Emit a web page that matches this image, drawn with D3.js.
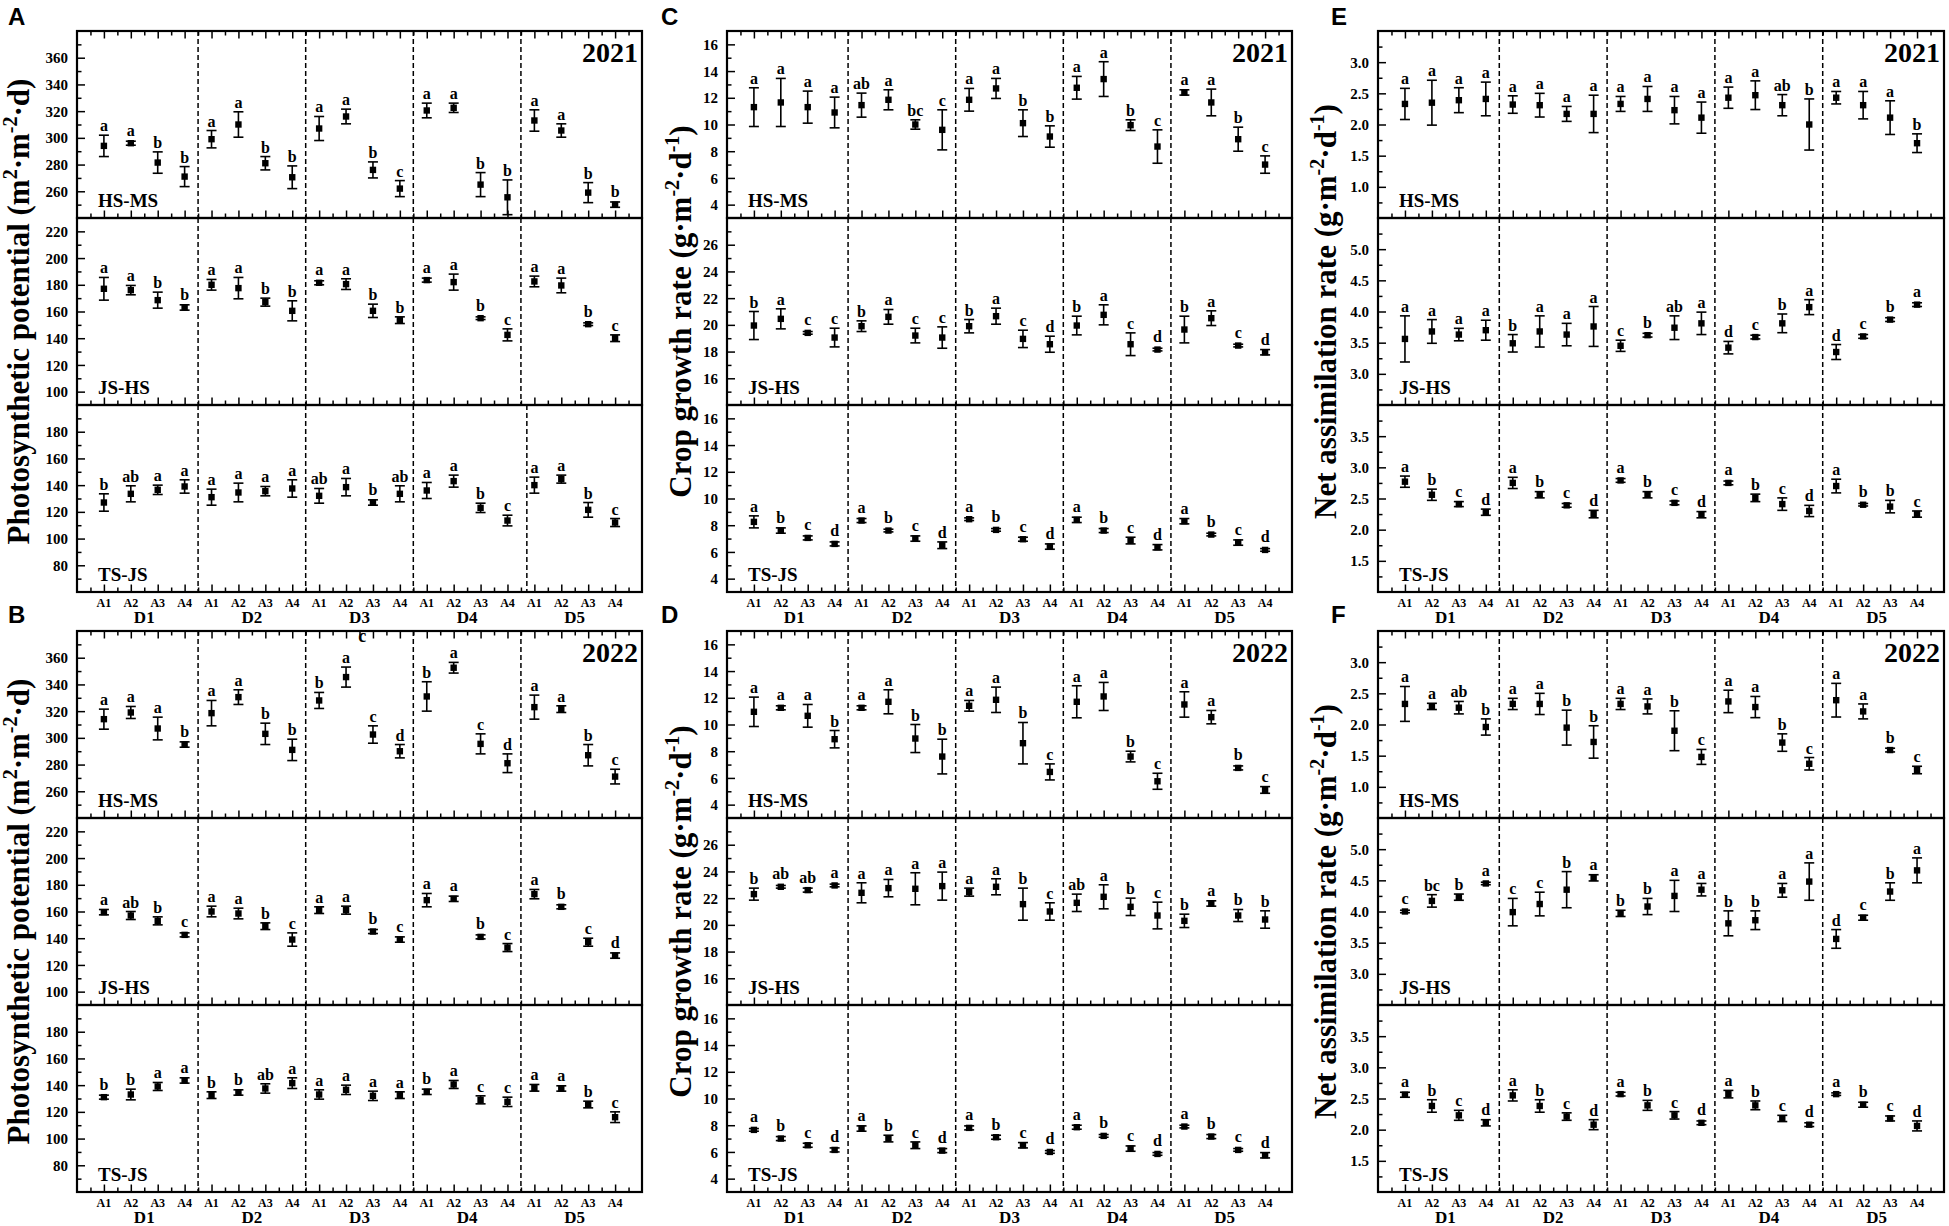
<!DOCTYPE html>
<html>
<head>
<meta charset="utf-8">
<script src="https://cdn.jsdelivr.net/npm/d3@7"></script>
<style>
  body { margin: 0; background: #fff; }
  svg text { font-family: "Liberation Serif", "Times New Roman", serif; font-weight: bold; fill: #000; }
</style>
</head>
<body>
<svg id="chart" width="1949" height="1226"></svg>
<script>
// categories
const groups = ["D1", "D2", "D3", "D4", "D5"];
const treatments = ["A1", "A2", "A3", "A4"];
const stages = ["HS-MS", "JS-HS", "TS-JS"];

// axis ticks / ranges for the three variables (top, middle, bottom sub panel)
const ppTicks = [[260, 280, 300, 320, 340, 360], [100, 120, 140, 160, 180, 200, 220], [80, 100, 120, 140, 160, 180]];
const ppDomains = [[240, 380], [90, 230], [60, 200]];
const cgrTicks = [[4, 6, 8, 10, 12, 14, 16], [16, 18, 20, 22, 24, 26], [4, 6, 8, 10, 12, 14, 16]];
const cgrDomains = [[3, 17], [14, 28], [3, 17]];
const narTicks = [[1.0, 1.5, 2.0, 2.5, 3.0], [3.0, 3.5, 4.0, 4.5, 5.0], [1.5, 2.0, 2.5, 3.0, 3.5]];
const narDomains = [[0.5, 3.5], [2.5, 5.5], [1.0, 4.0]];

// A - photosynthetic potential 2021
const ppHsMs21 = [294, 296, 281.5, 271, 299, 310, 281, 270.5, 307, 316, 276, 262, 320.5, 322.5, 265, 255.5, 313, 305.5, 259, 250];
const ppHsMs21Err = [8, 1.5, 8, 7.5, 6.5, 9.5, 5, 8.5, 9, 5.5, 6, 6, 5.5, 3.5, 9, 13, 8, 5, 7.5, 2];
const ppHsMs21Sig = "a a b b a a b b a a b c a a b b a a b b".split(" ");
const ppJsHs21 = [177, 176, 168.5, 163, 180, 177.5, 167, 160.5, 181.5, 180.5, 160.5, 153.5, 183.5, 182, 155, 142.5, 182.5, 179.5, 150.5, 140];
const ppJsHs21Err = [8.5, 3.5, 6, 2, 4, 8, 3, 7.5, 1.5, 4, 5, 2.5, 1.5, 6, 1, 4.5, 4, 5.5, 1, 2.5];
const ppJsHs21Sig = "a a b b a a b b a a b b a a b c a a b c".split(" ");
const ppTsJs21 = [127, 133.5, 136.5, 139, 131, 134.5, 135.5, 137.5, 132, 138.5, 127, 133.5, 136, 143, 123, 113.5, 140, 144.5, 121.5, 112];
const ppTsJs21Err = [6.5, 6, 3.5, 5, 6, 7, 3.5, 6.5, 5.5, 6.5, 2, 6, 6, 4.5, 3.5, 4, 6, 3, 5.5, 3];
const ppTsJs21Sig = "b ab a a a a a a ab a b ab a a b c a a b c".split(" ");

// B - photosynthetic potential 2022
const ppHsMs22 = [314, 319, 307, 295, 318.5, 330.5, 303, 291, 328, 345.5, 302.5, 290, 331, 352.5, 295.5, 281, 323, 321.5, 287, 271];
const ppHsMs22Err = [7.5, 4.5, 8.5, 2, 9.5, 5.5, 8, 8, 6, 7.5, 6.5, 5, 11, 4, 7.5, 7, 9, 2.5, 8, 5.5];
const ppHsMs22Sig = "a a a b a a b b b a c d b a c d a a b c".split(" ");
const ppJsHs22 = [159.5, 157, 153, 142.5, 160, 158.5, 149, 139, 161, 161, 145, 139, 168.5, 169.5, 141, 133, 173, 163.5, 137, 127];
const ppJsHs22Err = [2, 3, 3, 1.5, 4, 4, 2.5, 5, 2.5, 3, 1.5, 2, 5, 2, 1.5, 3, 3.5, 1.5, 3, 2];
const ppJsHs22Sig = "a ab b c a a b c a a b c a a b c a b c d".split(" ");
const ppTsJs22 = [131, 133, 139, 143.5, 132.5, 134.5, 137.5, 141.5, 133, 136.5, 132, 132.5, 135, 140.5, 129, 127.5, 138, 137.5, 125.5, 116];
const ppTsJs22Err = [1.5, 4, 3, 2, 2.5, 2, 3.5, 4, 3.5, 3.5, 3.5, 2.5, 2, 3, 3, 3.5, 2.5, 2, 2.5, 4];
const ppTsJs22Sig = "b b a a b b ab a a a a a b a c c a a b c".split(" ");

// C - crop growth rate 2021
const cgrHsMs21 = [11.3, 11.65, 11.3, 10.9, 11.45, 11.85, 10, 9.6, 11.85, 12.7, 10.1, 9.1, 12.75, 13.4, 9.95, 8.35, 12.4, 11.65, 8.9, 7.0];
const cgrHsMs21Err = [1.45, 1.8, 1.2, 1.15, 0.9, 0.75, 0.35, 1.5, 0.85, 0.75, 1.0, 0.8, 0.85, 1.3, 0.4, 1.25, 0.2, 1.0, 0.9, 0.65];
const cgrHsMs21Sig = "a a a a ab a bc c a a b b a a b c a a b c".split(" ");
const cgrJsHs21 = [19.95, 20.45, 19.4, 19.05, 19.9, 20.6, 19.2, 19.05, 19.9, 20.65, 18.95, 18.55, 19.95, 20.75, 18.55, 18.15, 19.65, 20.5, 18.45, 17.95];
const cgrJsHs21Err = [1.05, 0.75, 0.1, 0.7, 0.4, 0.55, 0.55, 0.8, 0.5, 0.6, 0.65, 0.6, 0.7, 0.75, 0.85, 0.1, 1.0, 0.55, 0.1, 0.2];
const cgrJsHs21Sig = "b a c c b a c c b a c d b a c d b a c d".split(" ");
const cgrTsJs21 = [8.25, 7.6, 7.05, 6.6, 8.35, 7.6, 7.0, 6.5, 8.45, 7.65, 6.95, 6.4, 8.4, 7.6, 6.85, 6.35, 8.3, 7.3, 6.7, 6.15];
const cgrTsJs21Err = [0.45, 0.2, 0.15, 0.15, 0.15, 0.1, 0.2, 0.25, 0.1, 0.1, 0.15, 0.2, 0.2, 0.15, 0.25, 0.2, 0.2, 0.1, 0.2, 0.1];
const cgrTsJs21Sig = "a b c d a b c d a b c d a b c d a b c d".split(" ");

// D - crop growth rate 2022
const cgrHsMs22 = [10.95, 11.25, 10.65, 8.9, 11.25, 11.7, 8.95, 7.6, 11.4, 11.85, 8.6, 6.45, 11.7, 12.1, 7.6, 5.75, 11.5, 10.55, 6.75, 5.1];
const cgrHsMs22Err = [1.1, 0.15, 0.85, 0.65, 0.15, 0.9, 1.05, 1.3, 0.4, 0.95, 1.55, 0.6, 1.2, 1.05, 0.4, 0.6, 0.95, 0.5, 0.15, 0.25];
const cgrHsMs22Sig = "a a a b a a b b a a b c a a b c a a b c".split(" ");
const cgrJsHs22 = [22.3, 22.85, 22.6, 22.95, 22.4, 22.75, 22.7, 22.9, 22.45, 22.85, 21.55, 21.0, 21.65, 22.1, 21.35, 20.7, 20.3, 21.6, 20.7, 20.4];
const cgrJsHs22Err = [0.45, 0.1, 0.15, 0.1, 0.75, 0.65, 1.2, 1.05, 0.3, 0.6, 1.2, 0.65, 0.65, 0.9, 0.65, 1.0, 0.5, 0.2, 0.45, 0.65];
const cgrJsHs22Sig = "b ab ab a a a a a a a b c ab a b c b a b b".split(" ");
const cgrTsJs22 = [7.65, 7.0, 6.5, 6.15, 7.75, 7.0, 6.5, 6.1, 7.8, 7.1, 6.5, 6.0, 7.85, 7.2, 6.25, 5.85, 7.9, 7.15, 6.15, 5.75];
const cgrTsJs22Err = [0.1, 0.15, 0.15, 0.15, 0.2, 0.25, 0.25, 0.15, 0.15, 0.15, 0.2, 0.1, 0.15, 0.1, 0.2, 0.1, 0.1, 0.15, 0.1, 0.2];
const cgrTsJs22Sig = "a b c d a b c d a b c d a b c d a b c d".split(" ");

// E - net assimilation rate 2021
const narHsMs21 = [2.33, 2.35, 2.39, 2.41, 2.32, 2.31, 2.17, 2.17, 2.33, 2.41, 2.23, 2.11, 2.43, 2.47, 2.31, 2.0, 2.43, 2.31, 2.11, 1.7];
const narHsMs21Err = [0.25, 0.36, 0.2, 0.27, 0.14, 0.19, 0.12, 0.3, 0.12, 0.2, 0.22, 0.25, 0.17, 0.23, 0.17, 0.41, 0.1, 0.22, 0.27, 0.15];
const narHsMs21Sig = "a a a a a a a a a a a a a a ab b a a a b".split(" ");
const narJsHs21 = [3.56, 3.68, 3.63, 3.7, 3.49, 3.68, 3.63, 3.76, 3.45, 3.62, 3.74, 3.81, 3.42, 3.59, 3.81, 4.07, 3.35, 3.6, 3.87, 4.11];
const narJsHs21Err = [0.37, 0.19, 0.1, 0.16, 0.14, 0.25, 0.18, 0.32, 0.09, 0.03, 0.19, 0.18, 0.1, 0.03, 0.15, 0.12, 0.12, 0.03, 0.03, 0.03];
const narJsHs21Sig = "a a a a b a a a c b ab a d c b a d c b a".split(" ");
const narTsJs21 = [2.77, 2.56, 2.41, 2.28, 2.75, 2.56, 2.39, 2.25, 2.79, 2.56, 2.43, 2.24, 2.75, 2.51, 2.41, 2.3, 2.7, 2.4, 2.37, 2.25];
const narTsJs21Err = [0.09, 0.09, 0.04, 0.05, 0.09, 0.05, 0.03, 0.06, 0.03, 0.05, 0.03, 0.05, 0.03, 0.06, 0.1, 0.09, 0.11, 0.02, 0.1, 0.05];
const narTsJs21Sig = "a b c d a b c d a b c d a b c d a b b c".split(" ");

// F - net assimilation rate 2022
const narHsMs22 = [2.33, 2.29, 2.27, 1.96, 2.33, 2.33, 1.95, 1.72, 2.33, 2.29, 1.9, 1.48, 2.37, 2.28, 1.71, 1.37, 2.39, 2.21, 1.59, 1.27];
const narHsMs22Err = [0.28, 0.05, 0.1, 0.13, 0.09, 0.17, 0.28, 0.26, 0.09, 0.12, 0.32, 0.12, 0.18, 0.17, 0.14, 0.1, 0.27, 0.12, 0.03, 0.06];
const narHsMs22Sig = "a a ab b a a b b a a b c a a b c a a b c".split(" ");
const narJsHs22 = [4.0, 4.17, 4.23, 4.45, 3.99, 4.12, 4.35, 4.54, 3.97, 4.08, 4.25, 4.35, 3.81, 3.86, 4.34, 4.48, 3.56, 3.9, 4.32, 4.66];
const narJsHs22Err = [0.02, 0.1, 0.05, 0.02, 0.22, 0.19, 0.29, 0.05, 0.05, 0.13, 0.25, 0.1, 0.2, 0.15, 0.11, 0.3, 0.15, 0.04, 0.14, 0.2];
const narJsHs22Sig = "c bc b a c c b a b b a a b b a a d c b a".split(" ");
const narTsJs22 = [2.56, 2.38, 2.23, 2.11, 2.55, 2.38, 2.21, 2.08, 2.57, 2.39, 2.23, 2.11, 2.57, 2.39, 2.18, 2.08, 2.57, 2.4, 2.18, 2.06];
const narTsJs22Err = [0.04, 0.1, 0.08, 0.05, 0.09, 0.1, 0.06, 0.08, 0.03, 0.08, 0.06, 0.03, 0.06, 0.07, 0.05, 0.03, 0.02, 0.04, 0.04, 0.08];
const narTsJs22Sig = "a b c d a b c d a b c d a b c d a b c d".split(" ");

// y axis titles: [text, superscript?]
const ppTitle = [["Photosynthetic potential (m", 0], ["2", 1], ["·m", 0], ["-2", 1], ["·d)", 0]];
const cgrTitle = [["Crop growth rate (g·m", 0], ["-2", 1], ["·d", 0], ["-1", 1], [")", 0]];
const narTitle = [["Net assimilation rate (g·m", 0], ["-2", 1], ["·d", 0], ["-1", 1], [")", 0]];

// ---------------------------------------------------------------
const svg = d3.select("#chart");
svg.append("rect").attr("width", 1949).attr("height", 1226).attr("fill", "#fff");

const cols = [
  { left: 77, right: 642, tagX: 8, titleX: 29 },
  { left: 727, right: 1292, tagX: 661, titleX: 691 },
  { left: 1378, right: 1944, tagX: 1331, titleX: 1336 }
];
const rows = [{ top: 31, tagY: 25 }, { top: 631, tagY: 623 }];
const subH = 187;

const panels = [
  { tag: "A", col: 0, row: 0, year: "2021", title: ppTitle, ticks: ppTicks, domains: ppDomains, fmt: d3.format("d"),
    series: [[ppHsMs21, ppHsMs21Err, ppHsMs21Sig], [ppJsHs21, ppJsHs21Err, ppJsHs21Sig], [ppTsJs21, ppTsJs21Err, ppTsJs21Sig]],
    dividers: [[4.5, 8.5, 12.5, 16.5], [4.5, 8.5, 12.5, 16.5], [4.5, 8.5, 12.5, 16.72]] },
  { tag: "B", col: 0, row: 1, year: "2022", title: ppTitle, ticks: ppTicks, domains: ppDomains, fmt: d3.format("d"),
    series: [[ppHsMs22, ppHsMs22Err, ppHsMs22Sig], [ppJsHs22, ppJsHs22Err, ppJsHs22Sig], [ppTsJs22, ppTsJs22Err, ppTsJs22Sig]] },
  { tag: "C", col: 1, row: 0, year: "2021", title: cgrTitle, ticks: cgrTicks, domains: cgrDomains, fmt: d3.format("d"),
    series: [[cgrHsMs21, cgrHsMs21Err, cgrHsMs21Sig], [cgrJsHs21, cgrJsHs21Err, cgrJsHs21Sig], [cgrTsJs21, cgrTsJs21Err, cgrTsJs21Sig]] },
  { tag: "D", col: 1, row: 1, year: "2022", title: cgrTitle, ticks: cgrTicks, domains: cgrDomains, fmt: d3.format("d"),
    series: [[cgrHsMs22, cgrHsMs22Err, cgrHsMs22Sig], [cgrJsHs22, cgrJsHs22Err, cgrJsHs22Sig], [cgrTsJs22, cgrTsJs22Err, cgrTsJs22Sig]] },
  { tag: "E", col: 2, row: 0, year: "2021", title: narTitle, ticks: narTicks, domains: narDomains, fmt: d3.format(".1f"),
    series: [[narHsMs21, narHsMs21Err, narHsMs21Sig], [narJsHs21, narJsHs21Err, narJsHs21Sig], [narTsJs21, narTsJs21Err, narTsJs21Sig]] },
  { tag: "F", col: 2, row: 1, year: "2022", title: narTitle, ticks: narTicks, domains: narDomains, fmt: d3.format(".1f"),
    series: [[narHsMs22, narHsMs22Err, narHsMs22Sig], [narJsHs22, narJsHs22Err, narJsHs22Sig], [narTsJs22, narTsJs22Err, narTsJs22Sig]] }
];

function strip(g) {
  g.select(".domain").remove();
  g.selectAll(".tick line").attr("stroke", "#000").attr("stroke-width", 1.5);
}

panels.forEach(p => {
  const c = cols[p.col], r = rows[p.row];
  const g = svg.append("g");
  const x = d3.scaleLinear().domain([0, 21]).range([c.left, c.right]);
  const pos = d3.range(1, 21);
  const bottomAll = r.top + 3 * subH;

  // panel tag
  g.append("text").attr("x", c.tagX).attr("y", r.tagY)
    .style("font-family", "'Liberation Sans', Arial, sans-serif")
    .attr("font-size", 24).text(p.tag);

  // y title
  const t = g.append("text")
    .attr("transform", `translate(${c.titleX},${(r.top + bottomAll) / 2}) rotate(-90)`)
    .attr("text-anchor", "middle").attr("font-size", 31);
  let up = false;
  p.title.forEach(([s, sup]) => {
    const ts = t.append("tspan").text(s);
    if (sup) { ts.attr("font-size", 20).attr("dy", up ? 0 : -12); up = true; }
    else { ts.attr("dy", up ? 12 : 0); up = false; }
  });

  // top ticks of the whole panel
  g.append("g").attr("transform", `translate(0,${r.top})`)
    .call(d3.axisTop(x).tickValues(pos).tickSize(-7.5).tickSizeOuter(0).tickFormat(""))
    .call(strip);
  g.append("g").attr("transform", `translate(0,${r.top})`)
    .call(d3.axisTop(x).tickValues(d3.range(0.5, 21, 1)).tickSize(-4.5).tickSizeOuter(0).tickFormat(""))
    .call(strip);

  p.series.forEach(([mean, err, sig], k) => {
    const top = r.top + k * subH, bottom = top + subH;
    const y = d3.scaleLinear().domain(p.domains[k]).range([bottom, top]);
    const ticks = p.ticks[k];
    const step = ticks[1] - ticks[0];
    const minor = d3.range(p.domains[k][0] + step / 2, p.domains[k][1] - 1e-9, step / 2)
      .filter(v => ticks.every(m => Math.abs(m - v) > step / 10));

    // dividers
    const divs = p.dividers ? p.dividers[k] : [4.5, 8.5, 12.5, 16.5];
    g.selectAll(null).data(divs).join("line")
      .attr("x1", d => x(d)).attr("x2", d => x(d))
      .attr("y1", top).attr("y2", bottom)
      .attr("stroke", "#000").attr("stroke-width", 1.5).attr("stroke-dasharray", "5,3");

    // y axis
    g.append("g").attr("transform", `translate(${c.left},0)`)
      .call(d3.axisLeft(y).tickValues(ticks).tickSize(-8).tickSizeOuter(0).tickPadding(9).tickFormat(p.fmt))
      .call(strip)
      .call(a => a.selectAll("text").attr("font-size", 15).attr("dy", "0.34em"));
    g.append("g").attr("transform", `translate(${c.left},0)`)
      .call(d3.axisLeft(y).tickValues(minor).tickSize(-4.5).tickSizeOuter(0).tickFormat(""))
      .call(strip);

    // x ticks on the bottom edge of this sub panel
    g.append("g").attr("transform", `translate(0,${bottom})`)
      .call(d3.axisBottom(x).tickValues(pos).tickSize(-7.5).tickSizeOuter(0).tickFormat(""))
      .call(strip);
    g.append("g").attr("transform", `translate(0,${bottom})`)
      .call(d3.axisBottom(x).tickValues(d3.range(0.5, 21, 1)).tickSize(-4.5).tickSizeOuter(0).tickFormat(""))
      .call(strip);

    // stage label
    g.append("text").attr("x", c.left + 21).attr("y", bottom - 11)
      .attr("font-size", 19).text(stages[k]);

    // error bars + markers + letters
    const pts = mean.map((m, i) => ({ xi: pos[i], m, e: err[i], s: sig[i] }));
    const pg = g.append("g");
    pg.selectAll(null).data(pts).join("line")
      .attr("x1", d => x(d.xi)).attr("x2", d => x(d.xi))
      .attr("y1", d => y(d.m - d.e)).attr("y2", d => y(d.m + d.e))
      .attr("stroke", "#000").attr("stroke-width", 1.6);
    [1, -1].forEach(sgn => {
      pg.selectAll(null).data(pts).join("line")
        .attr("x1", d => x(d.xi) - 5).attr("x2", d => x(d.xi) + 5)
        .attr("y1", d => y(d.m + sgn * d.e)).attr("y2", d => y(d.m + sgn * d.e))
        .attr("stroke", "#000").attr("stroke-width", 1.6);
    });
    pg.selectAll(null).data(pts).join("rect")
      .attr("x", d => x(d.xi) - 3.2).attr("y", d => y(d.m) - 3.2)
      .attr("width", 6.4).attr("height", 6.4).attr("fill", "#000");
    pg.selectAll(null).data(pts).join("text")
      .attr("x", d => x(d.xi)).attr("y", d => Math.min(y(d.m + d.e), y(d.m) - 3.5) - 4)
      .attr("text-anchor", "middle").attr("font-size", 16).text(d => d.s);

    // frame
    g.append("rect").attr("x", c.left).attr("y", top)
      .attr("width", c.right - c.left).attr("height", subH)
      .attr("fill", "none").attr("stroke", "#000").attr("stroke-width", 2.2);

    if (k === 2) {
      g.selectAll(null).data(pos).join("text")
        .attr("x", d => x(d)).attr("y", bottom + 14.5)
        .attr("text-anchor", "middle").attr("font-size", 12)
        .text((d, i) => treatments[i % 4]);
      g.selectAll(null).data(groups).join("text")
        .attr("x", (d, i) => x(2.5 + 4 * i)).attr("y", bottom + 31)
        .attr("text-anchor", "middle").attr("font-size", 17)
        .text(d => d);
    }
  });

  // year
  g.append("text").attr("x", c.right - 4).attr("y", r.top + 31)
    .attr("text-anchor", "end").attr("font-size", 28).text(p.year);

  // stray letter left over in panel B
  if (p.tag === "B") {
    g.append("text").attr("x", x(10.6)).attr("y", r.top + 10.5)
      .attr("text-anchor", "middle").attr("font-size", 18).attr("font-weight", "normal").text("c");
  }
});
</script>
</body>
</html>
